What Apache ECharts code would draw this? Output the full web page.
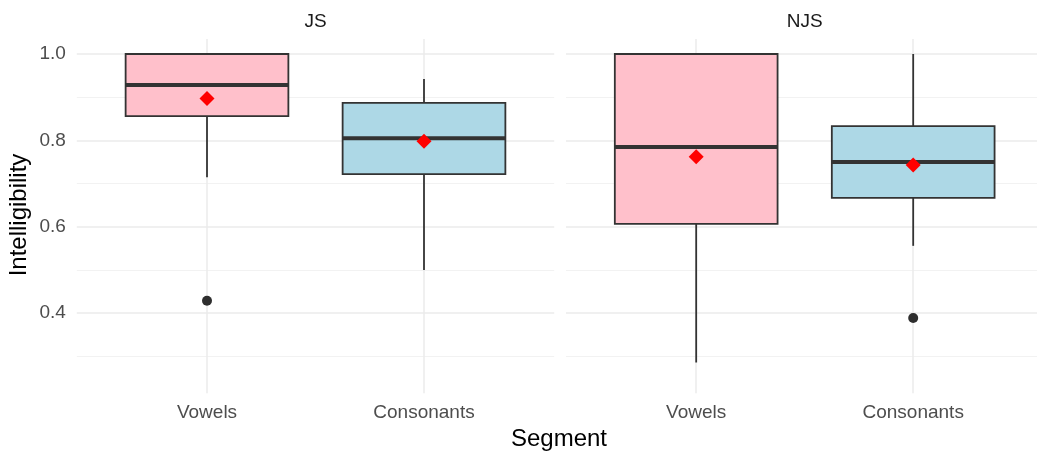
<!DOCTYPE html>
<html>
<head>
<meta charset="utf-8">
<script src="https://cdn.jsdelivr.net/npm/echarts@6/dist/echarts.min.js"></script>
<style>
  html, body { margin: 0; padding: 0; background: #fff; }
  #chart { width: 1037px; height: 452px; }
</style>
</head>
<body>
<div id="chart"></div>
<script>
// Facets and x categories
const panels = ['JS', 'NJS'];
const categories = ['Vowels', 'Consonants'];

// Box summaries for the JS panel, in category order
const jsWhiskerLow  = [0.715, 0.500];
const jsQ1          = [0.856, 0.722];
const jsMedian      = [0.928, 0.805];
const jsQ3          = [1.000, 0.887];
const jsWhiskerHigh = [1.000, 0.942];
const jsMean        = [0.897, 0.798];
const jsOutliers    = [[0, 0.429]];

// Box summaries for the NJS panel, in category order
const njsWhiskerLow  = [0.286, 0.556];
const njsQ1          = [0.607, 0.667];
const njsMedian      = [0.785, 0.750];
const njsQ3          = [1.000, 0.833];
const njsWhiskerHigh = [1.000, 1.000];
const njsMean        = [0.762, 0.743];
const njsOutliers    = [[1, 0.389]];

// Axis ticks
const yMajorTicks = [0.4, 0.6, 0.8, 1.0];
const yMinorTicks = [0.3, 0.5, 0.7, 0.9];
const xTicks = [0, 1];

const fillColors = ['#FFC0CB', '#ADD8E6'];
const FONT = '"Liberation Sans", Arial, sans-serif';
const Y_MIN = 0.2147, Y_MAX = 1.0347;

function boxRows(low, q1, med, q3, high) {
  return categories.map((c, i) => [i, low[i], q1[i], med[i], q3[i], high[i]]);
}

function renderBox(params, api) {
  const x = api.value(0);
  const half = api.size([1, 0])[0] * 0.375;
  const pLow = api.coord([x, api.value(1)]);
  const pQ1 = api.coord([x, api.value(2)]);
  const pMed = api.coord([x, api.value(3)]);
  const pQ3 = api.coord([x, api.value(4)]);
  const pHigh = api.coord([x, api.value(5)]);
  const stroke = { stroke: '#333333', lineWidth: 1.8 };
  const children = [];
  if (Math.abs(pHigh[1] - pQ3[1]) > 0.5) {
    children.push({ type: 'line', shape: { x1: pQ3[0], y1: pQ3[1], x2: pHigh[0], y2: pHigh[1] }, style: stroke });
  }
  if (Math.abs(pLow[1] - pQ1[1]) > 0.5) {
    children.push({ type: 'line', shape: { x1: pQ1[0], y1: pQ1[1], x2: pLow[0], y2: pLow[1] }, style: stroke });
  }
  children.push({
    type: 'rect',
    shape: { x: pQ3[0] - half, y: pQ3[1], width: half * 2, height: pQ1[1] - pQ3[1] },
    style: { fill: fillColors[params.dataIndex], stroke: '#333333', lineWidth: 1.8 }
  });
  children.push({
    type: 'line',
    shape: { x1: pMed[0] - half, y1: pMed[1], x2: pMed[0] + half, y2: pMed[1] },
    style: { stroke: '#333333', lineWidth: 4 }
  });
  return { type: 'group', children: children };
}

// Panel placement; the right panel runs to the page edge
const gridLeft = [76.8, 566];
const gridWidth = [477.4, 471];
const unitPx = 477.4 / 2.2;
const xMax = [1.6, -0.6 + 471 / unitPx];

const chart = echarts.init(document.getElementById('chart'), null, { renderer: 'canvas' });

const xAxes = gridLeft.map((l, g) => ({
  type: 'value', gridIndex: g, min: -0.6, max: xMax[g],
  axisLine: { show: false },
  axisTick: { show: false, customValues: xTicks },
  axisLabel: {
    customValues: xTicks, margin: 10,
    formatter: v => categories[Math.round(v)],
    color: '#4d4d4d', fontSize: 19, fontFamily: FONT
  },
  splitLine: { show: true, lineStyle: { color: '#ebebeb', width: 1.5 } }
}));

const yAxes = [];
gridLeft.forEach((l, g) => {
  yAxes.push({
    type: 'value', gridIndex: g, min: Y_MIN, max: Y_MAX,
    axisLine: { show: false },
    axisTick: { show: false, customValues: yMajorTicks },
    axisLabel: {
      show: g === 0, customValues: yMajorTicks, margin: 11, padding: [4, 0, 0, 0],
      formatter: v => v.toFixed(1),
      color: '#4d4d4d', fontSize: 19, fontFamily: FONT
    },
    splitLine: { show: true, lineStyle: { color: '#ebebeb', width: 1.5 } }
  });
  yAxes.push({
    type: 'value', gridIndex: g, min: Y_MIN, max: Y_MAX,
    axisLine: { show: false },
    axisTick: { show: false, customValues: yMinorTicks },
    axisLabel: { show: false, customValues: yMinorTicks },
    splitLine: { show: true, lineStyle: { color: '#f2f2f2', width: 1 } }
  });
});

const panelData = [
  { rows: boxRows(jsWhiskerLow, jsQ1, jsMedian, jsQ3, jsWhiskerHigh), mean: jsMean, out: jsOutliers },
  { rows: boxRows(njsWhiskerLow, njsQ1, njsMedian, njsQ3, njsWhiskerHigh), mean: njsMean, out: njsOutliers }
];

const series = [];
panelData.forEach((p, g) => {
  series.push({
    type: 'custom', xAxisIndex: g, yAxisIndex: g * 2,
    renderItem: renderBox,
    encode: { x: 0, y: [1, 2, 3, 4, 5] },
    data: p.rows, silent: true, z: 2
  });
  series.push({
    type: 'scatter', xAxisIndex: g, yAxisIndex: g * 2,
    data: p.out, symbol: 'circle', symbolSize: 10,
    itemStyle: { color: '#2e2e2e', opacity: 1 }, silent: true, z: 3
  });
  series.push({
    type: 'scatter', xAxisIndex: g, yAxisIndex: g * 2,
    data: categories.map((c, i) => [i, p.mean[i]]),
    symbol: 'diamond', symbolSize: [15, 15],
    itemStyle: { color: '#ff0000', opacity: 1 }, silent: true, z: 4
  });
});

chart.setOption({
  animation: false,
  backgroundColor: '#ffffff',
  grid: gridLeft.map((l, g) => ({ left: l, top: 39, width: gridWidth[g], height: 354.3, containLabel: false })),
  xAxis: xAxes,
  yAxis: yAxes,
  graphic: [
    {
      type: 'text', x: gridLeft[0] + gridWidth[0] / 2, y: 22,
      style: { text: panels[0], fontSize: 19, fill: '#1a1a1a', fontFamily: FONT, align: 'center', verticalAlign: 'middle' }
    },
    {
      type: 'text', x: gridLeft[1] + gridWidth[0] / 2, y: 22,
      style: { text: panels[1], fontSize: 19, fill: '#1a1a1a', fontFamily: FONT, align: 'center', verticalAlign: 'middle' }
    },
    {
      type: 'text', x: 19, y: 215, rotation: Math.PI / 2,
      style: { text: 'Intelligibility', fontSize: 24, fill: '#000000', fontFamily: FONT, align: 'center', verticalAlign: 'middle' }
    },
    {
      type: 'text', x: 559, y: 439,
      style: { text: 'Segment', fontSize: 24, fill: '#000000', fontFamily: FONT, align: 'center', verticalAlign: 'middle' }
    }
  ],
  series: series
});
</script>
</body>
</html>
